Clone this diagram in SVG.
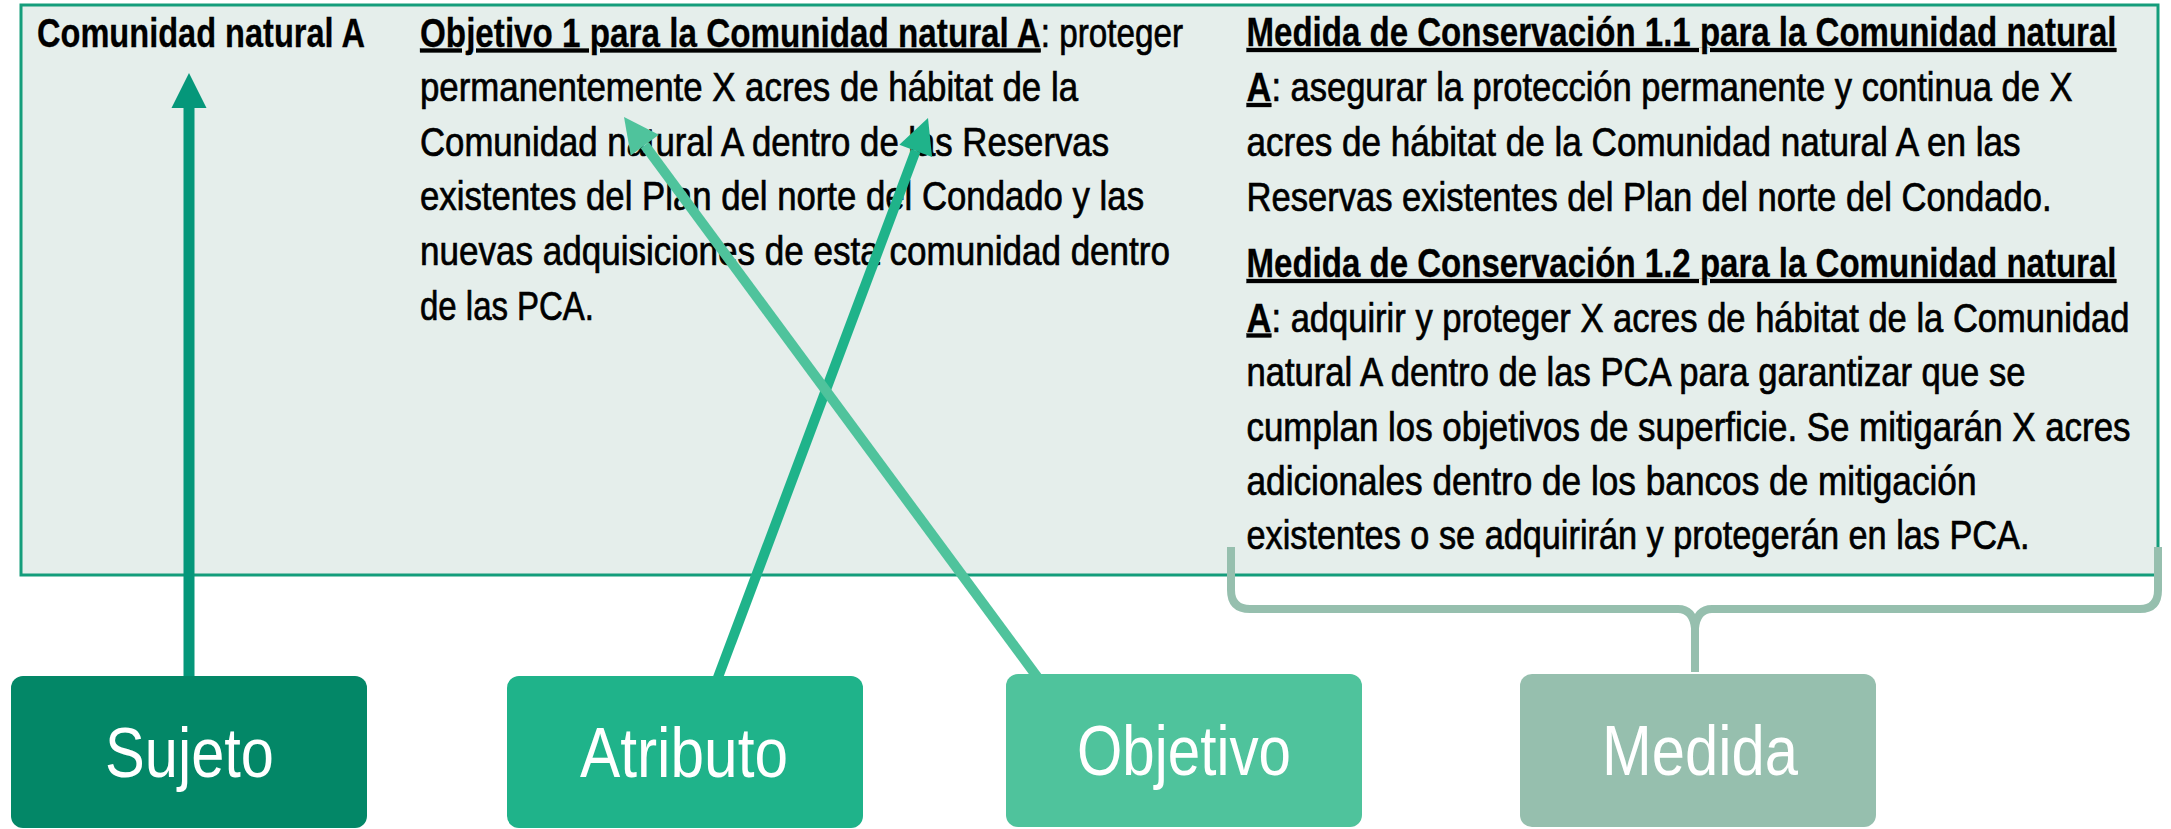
<svg xmlns="http://www.w3.org/2000/svg" width="2171" height="829" viewBox="0 0 2171 829">
<style>
.t{font-family:"Liberation Sans",Arial,sans-serif;font-size:40px;fill:#000;stroke:#000;stroke-width:0.7px;}
.b{font-weight:bold;stroke-width:0.3px;}
.u{text-decoration:underline;}
.lbl{font-family:"Liberation Sans",Arial,sans-serif;font-size:70px;fill:#fff;}
.conn{fill:none;stroke-linecap:butt;}
</style>
<defs>
<marker id="mS" markerUnits="userSpaceOnUse" markerWidth="36" markerHeight="36" refX="0" refY="17.5" orient="auto" overflow="visible"><path d="M0,0 L35,17.5 L0,35 z" fill="#05977a"/></marker>
<marker id="mA" markerUnits="userSpaceOnUse" markerWidth="36" markerHeight="36" refX="0" refY="17.5" orient="auto" overflow="visible"><path d="M0,0 L35,17.5 L0,35 z" fill="#1fb38a"/></marker>
<marker id="mO" markerUnits="userSpaceOnUse" markerWidth="36" markerHeight="36" refX="0" refY="17.5" orient="auto" overflow="visible"><path d="M0,0 L35,17.5 L0,35 z" fill="#4fc39c"/></marker>
</defs>
<rect width="2171" height="829" fill="#fff"/>
<g id="panel">
<rect x="21" y="5" width="2137" height="570" fill="#e5eeeb" stroke="#149d7b" stroke-width="3"/>
<text class="t b" x="37" y="47" textLength="328" lengthAdjust="spacingAndGlyphs">Comunidad natural A</text>
<text class="t" x="420" y="46.5" textLength="763" lengthAdjust="spacingAndGlyphs"><tspan class="b u">Objetivo 1 para la Comunidad natural A</tspan>: proteger</text>
<text class="t" x="420" y="101" textLength="658" lengthAdjust="spacingAndGlyphs">permanentemente X acres de hábitat de la</text>
<text class="t" x="420" y="155.7" textLength="689" lengthAdjust="spacingAndGlyphs">Comunidad natural A dentro de las Reservas</text>
<text class="t" x="420" y="210.3" textLength="724" lengthAdjust="spacingAndGlyphs">existentes del Plan del norte del Condado y las</text>
<text class="t" x="420" y="264.9" textLength="750" lengthAdjust="spacingAndGlyphs">nuevas adquisiciones de esta comunidad dentro</text>
<text class="t" x="420" y="319.5" textLength="174" lengthAdjust="spacingAndGlyphs">de las PCA.</text>
<text class="t b u" x="1246.5" y="46" textLength="870" lengthAdjust="spacingAndGlyphs">Medida de Conservación 1.1 para la Comunidad natural</text>
<text class="t" x="1246.5" y="101" textLength="826" lengthAdjust="spacingAndGlyphs"><tspan class="b u">A</tspan>: asegurar la protección permanente y continua de X</text>
<text class="t" x="1246.5" y="156" textLength="774" lengthAdjust="spacingAndGlyphs">acres de hábitat de la Comunidad natural A en las</text>
<text class="t" x="1246.5" y="211" textLength="805" lengthAdjust="spacingAndGlyphs">Reservas existentes del Plan del norte del Condado.</text>
<text class="t b u" x="1246.5" y="277" textLength="870" lengthAdjust="spacingAndGlyphs">Medida de Conservación 1.2 para la Comunidad natural</text>
<text class="t" x="1246.5" y="331.5" textLength="883" lengthAdjust="spacingAndGlyphs"><tspan class="b u">A</tspan>: adquirir y proteger X acres de hábitat de la Comunidad</text>
<text class="t" x="1246.5" y="386" textLength="779" lengthAdjust="spacingAndGlyphs">natural A dentro de las PCA para garantizar que se</text>
<text class="t" x="1246.5" y="440.5" textLength="884" lengthAdjust="spacingAndGlyphs">cumplan los objetivos de superficie. Se mitigarán X acres</text>
<text class="t" x="1246.5" y="495" textLength="730" lengthAdjust="spacingAndGlyphs">adicionales dentro de los bancos de mitigación</text>
<text class="t" x="1246.5" y="549" textLength="783" lengthAdjust="spacingAndGlyphs">existentes o se adquirirán y protegerán en las PCA.</text>
</g>
<g id="connectors">
<line class="conn" x1="189" y1="680" x2="189" y2="108" stroke="#05977a" stroke-width="11" marker-end="url(#mS)"/>
<line class="conn" x1="717" y1="680" x2="915.7" y2="150.8" stroke="#1fb38a" stroke-width="10" marker-end="url(#mA)"/>
<line class="conn" x1="1038" y1="678" x2="644.8" y2="145.2" stroke="#4fc39c" stroke-width="10" marker-end="url(#mO)"/>
<path class="conn" d="M1231,547 L1231,590 Q1231,609 1250,609 L1678,609 Q1693,609 1695,628 L1695,672 M1695,628 Q1697,609 1712,609 L2140,609 Q2158,609 2158,590 L2158,547" stroke="#96bfae" stroke-width="8"/>
</g>
<g id="sujeto">
<rect x="11" y="676" width="356" height="152" rx="12" fill="#038767"/>
<text class="lbl" x="105" y="777" textLength="169" lengthAdjust="spacingAndGlyphs">Sujeto</text>
</g>
<g id="atributo">
<rect x="507" y="676" width="356" height="152" rx="12" fill="#1fb38a"/>
<text class="lbl" x="580" y="777" textLength="208" lengthAdjust="spacingAndGlyphs">Atributo</text>
</g>
<g id="objetivo">
<rect x="1006" y="674" width="356" height="153" rx="12" fill="#4fc39c"/>
<text class="lbl" x="1077" y="775" textLength="214" lengthAdjust="spacingAndGlyphs">Objetivo</text>
</g>
<g id="medida">
<rect x="1520" y="674" width="356" height="153" rx="12" fill="#96bfae"/>
<text class="lbl" x="1602" y="775" textLength="196" lengthAdjust="spacingAndGlyphs">Medida</text>
</g>
</svg>
